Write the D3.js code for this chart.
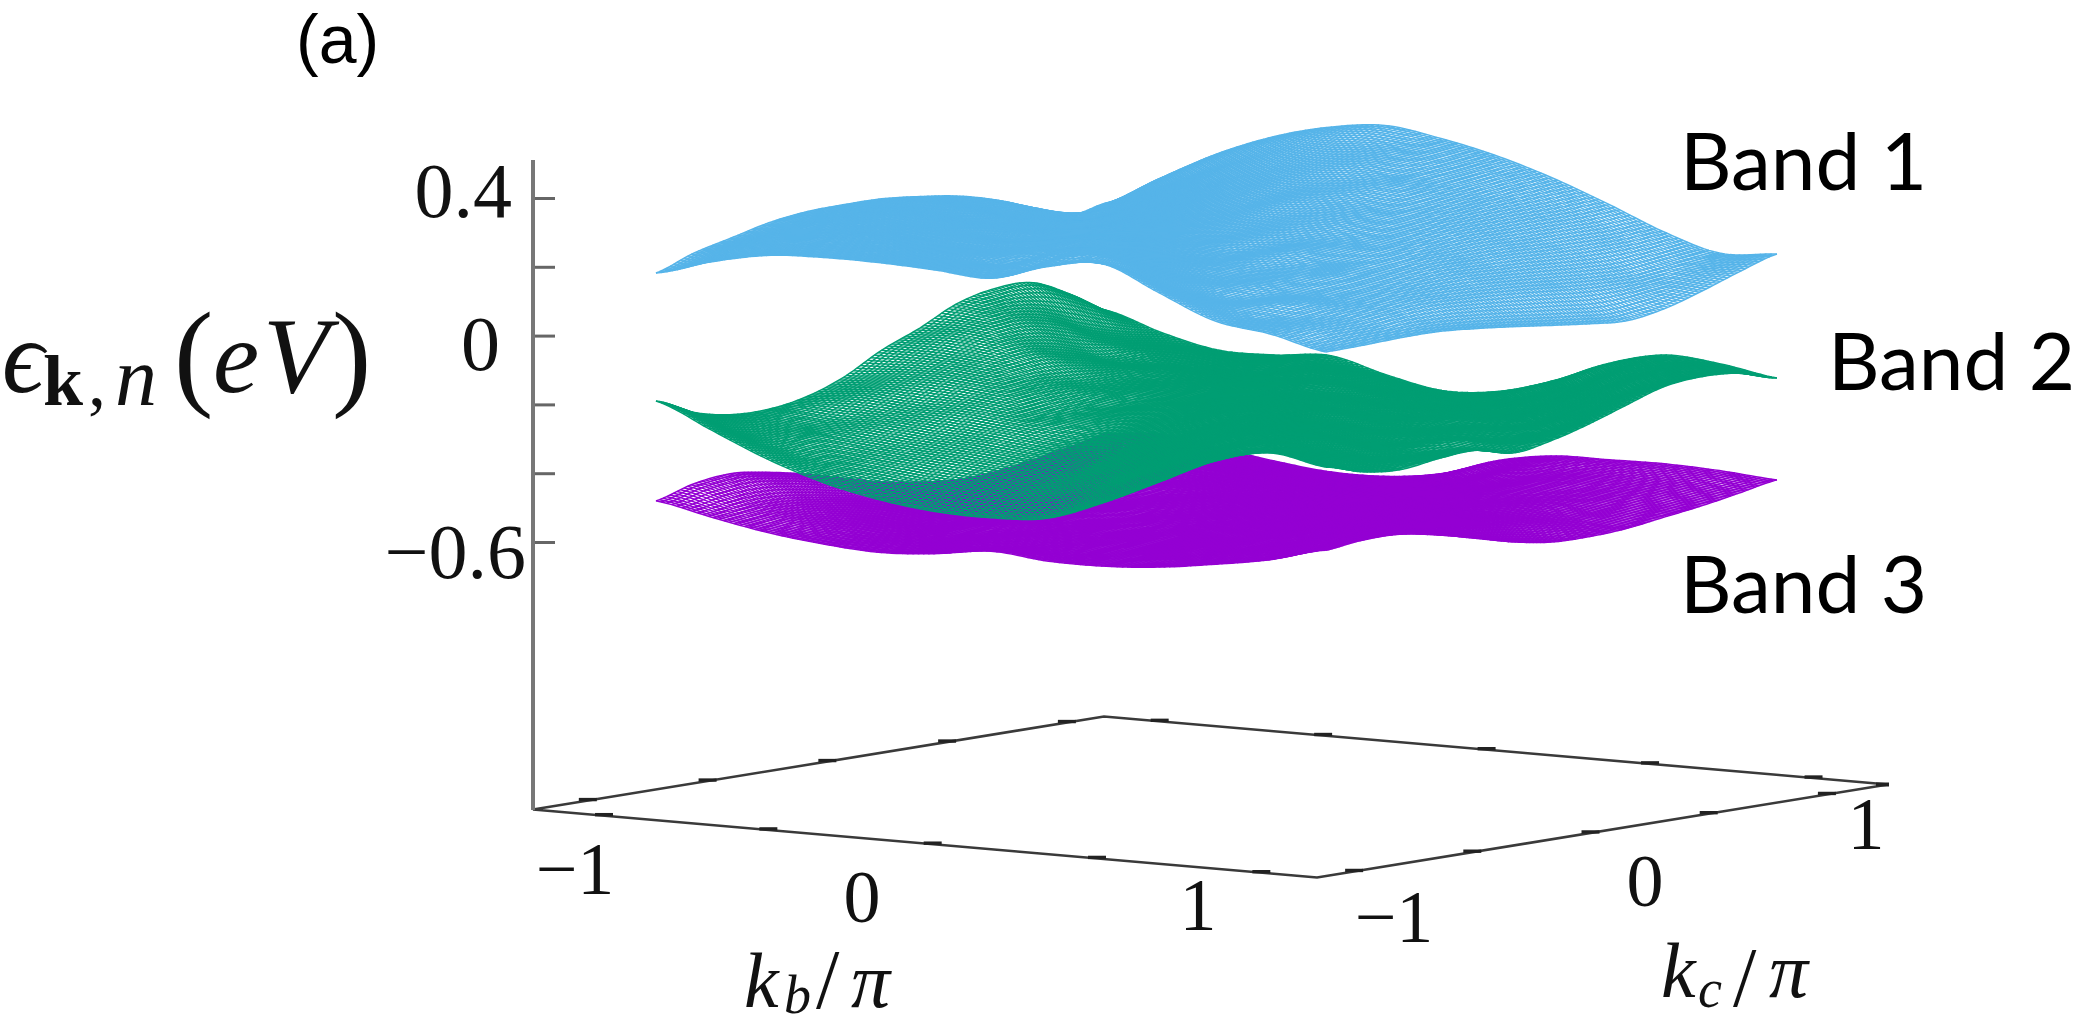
<!DOCTYPE html>
<html><head><meta charset="utf-8"><title>Band structure</title>
<script src="https://cdn.jsdelivr.net/npm/d3@7"></script>
<style>html,body{margin:0;background:#fff}svg{display:block;filter:blur(.6px)}
.cm{font-family:"Liberation Serif",serif;fill:#111}.ca{font-family:Lato,sans-serif;fill:#000}.ls{font-family:"Liberation Sans",sans-serif;fill:#000}</style></head>
<body><script>
const kbGrid=[-1,-.8333,-.6667,-.5,-.3333,-.1667,0,.1667,.3333,.5,.6667,.8333,1];
const kcGrid=kbGrid.slice();
const bandOne=[
[.175,.214,.240,.266,.280,.283,.282,.271,.255,.227,.187,.147,.166],
[.221,.246,.265,.278,.280,.276,.262,.247,.212,.186,.172,.203,.253],
[.253,.264,.274,.272,.266,.253,.233,.211,.195,.201,.230,.275,.335],
[.261,.266,.265,.257,.247,.223,.222,.219,.225,.248,.288,.343,.397],
[.260,.258,.251,.238,.234,.242,.237,.240,.258,.294,.341,.393,.438],
[.253,.247,.232,.256,.268,.248,.245,.260,.291,.335,.378,.418,.456],
[.243,.254,.288,.274,.250,.243,.253,.284,.326,.356,.393,.416,.432],
[.290,.318,.272,.244,.233,.240,.274,.304,.331,.360,.373,.388,.396],
[.312,.262,.229,.214,.228,.260,.275,.300,.317,.328,.335,.342,.346],
[.244,.207,.189,.213,.231,.245,.263,.273,.279,.280,.281,.281,.285],
[.177,.172,.195,.195,.208,.219,.225,.223,.221,.216,.213,.213,.219],
[.153,.158,.159,.167,.173,.170,.164,.156,.146,.140,.140,.157,.173],
[.115,.117,.121,.121,.112,.100,.086,.073,.064,.081,.114,.152,.185]];
const bandTwo=[
[-.192,-.242,-.266,-.268,-.250,-.211,-.152,-.107,-.054,-.028,-.028,-.078,-.143],
[-.262,-.294,-.300,-.286,-.241,-.199,-.152,-.107,-.087,-.105,-.147,-.177,-.194],
[-.331,-.341,-.323,-.286,-.248,-.199,-.166,-.149,-.169,-.198,-.202,-.214,-.229],
[-.384,-.367,-.336,-.296,-.250,-.219,-.212,-.220,-.222,-.219,-.227,-.230,-.229],
[-.419,-.388,-.344,-.304,-.271,-.261,-.254,-.237,-.229,-.227,-.229,-.220,-.217],
[-.439,-.394,-.353,-.321,-.295,-.268,-.245,-.233,-.222,-.219,-.215,-.231,-.258],
[-.443,-.396,-.356,-.313,-.274,-.245,-.226,-.218,-.214,-.216,-.245,-.270,-.289],
[-.431,-.372,-.316,-.272,-.239,-.214,-.209,-.213,-.232,-.257,-.275,-.282,-.278],
[-.373,-.311,-.262,-.225,-.207,-.207,-.216,-.245,-.265,-.272,-.275,-.266,-.233],
[-.300,-.246,-.207,-.199,-.210,-.232,-.256,-.266,-.258,-.270,-.253,-.216,-.169],
[-.226,-.197,-.200,-.215,-.246,-.261,-.257,-.256,-.264,-.239,-.200,-.157,-.132],
[-.188,-.208,-.233,-.255,-.258,-.236,-.260,-.256,-.225,-.187,-.148,-.132,-.144],
[-.215,-.246,-.257,-.243,-.237,-.262,-.244,-.214,-.177,-.142,-.131,-.139,-.170]];
const bandThree=[
[-.478,-.447,-.435,-.449,-.472,-.501,-.529,-.547,-.558,-.553,-.537,-.517,-.496],
[-.511,-.496,-.497,-.511,-.530,-.544,-.556,-.554,-.547,-.531,-.513,-.480,-.484],
[-.541,-.534,-.539,-.549,-.554,-.557,-.548,-.541,-.528,-.511,-.489,-.495,-.509],
[-.560,-.559,-.558,-.558,-.552,-.547,-.539,-.526,-.500,-.498,-.505,-.518,-.533],
[-.570,-.562,-.555,-.543,-.546,-.538,-.526,-.506,-.506,-.511,-.521,-.535,-.550],
[-.560,-.550,-.546,-.546,-.539,-.520,-.513,-.512,-.515,-.522,-.534,-.542,-.549],
[-.539,-.550,-.548,-.540,-.524,-.518,-.514,-.515,-.521,-.525,-.533,-.533,-.527],
[-.553,-.552,-.539,-.528,-.519,-.513,-.512,-.515,-.514,-.518,-.519,-.511,-.476],
[-.554,-.541,-.530,-.517,-.509,-.507,-.501,-.502,-.503,-.506,-.496,-.469,-.449],
[-.543,-.527,-.512,-.503,-.496,-.486,-.486,-.492,-.497,-.489,-.475,-.465,-.446],
[-.521,-.504,-.494,-.476,-.471,-.473,-.484,-.494,-.494,-.492,-.483,-.466,-.444],
[-.494,-.479,-.459,-.454,-.465,-.482,-.500,-.509,-.515,-.505,-.489,-.471,-.450],
[-.453,-.441,-.442,-.462,-.489,-.517,-.535,-.537,-.531,-.516,-.501,-.482,-.462]];
const energyTicks=[.4,.2,0,-.2,-.4,-.6];
const energyLabels=["0.4","0","−0.6"];
const momentumTicks=[-1,-.5,0,.5,1];
const momentumLabels=["−1","0","1"];
const bandNames=["Band 1","Band 2","Band 3"];
const bandColors=["#56B4E9","#009E73","#9400D3"];

const W=2074,H=1028,MESH=128,LINE=1.5;
const svg=d3.select("body").append("svg").attr("width",W).attr("height",H).attr("viewBox",[0,0,W,H]);

const sxU=d3.scaleLinear([-1,1],[-392,392]),sxV=d3.scaleLinear([-1,1],[-285.5,285.5]);
const syU=d3.scaleLinear([-1,1],[-34,34]),syV=d3.scaleLinear([-1,1],[46.5,-46.5]);
const syE=d3.scaleLinear([0,1],[0,-349]);
const px=(u,v)=>1210.5+sxU(u)+sxV(v);
const py=(u,v,e)=>325.5+syU(u)+syV(v)+syE(e);
const floorY=(u,v)=>797+syU(u)+syV(v);
const kbToU=d3.scaleLinear([-1,1],[-.836,.873]),kcToV=d3.scaleLinear([-1,1],[-.7945,.7855]);
const gridKb=d3.scaleLinear([0,kbGrid.length-1],[kbGrid[0],kbGrid[kbGrid.length-1]]);
const gridKc=d3.scaleLinear([0,kcGrid.length-1],[kcGrid[0],kcGrid[kcGrid.length-1]]);
const energyY=d3.scaleLinear([-.6,.4],[542,198]);

const cr=(a,b,c,d,t)=>.5*(2*b+(c-a)*t+(2*a-5*b+4*c-d)*t*t+(3*b-a-3*c+d)*t*t*t);
function evalBand(g,fi,fj){
  const n=g.length-1,i=Math.min(n-1,Math.floor(fi)),j=Math.min(n-1,Math.floor(fj)),ti=fi-i,tj=fj-j;
  const row=r=>{const R=g[Math.max(0,Math.min(n,r))];
    return cr(R[Math.max(0,j-1)],R[j],R[j+1],R[Math.min(n,j+2)],tj);};
  return cr(row(i-1),row(i),row(i+1),row(i+2),ti);
}
const line=d3.line();
function drawBand(g,color){
  const n=g.length-1,G=svg.append("g").attr("fill","none").attr("stroke",color).attr("stroke-width",LINE);
  const pt=(fi,fj)=>{const u=kbToU(gridKb(fi)),v=kcToV(gridKc(fj));return [px(u,v),py(u,v,evalBand(g,fi,fj))];};
  const steps=d3.range(MESH+1).map(k=>k/MESH*n);
  steps.forEach(s=>{
    G.append("path").attr("d",line(steps.map(t=>pt(s,t))));
    G.append("path").attr("d",line(steps.map(t=>pt(t,s))));
  });
}

const corners=[[-1,-1],[1,-1],[1,1],[-1,1]];
const cxy=c=>[px(c[0],c[1]),floorY(c[0],c[1])];
svg.append("path").attr("d",d3.line()(corners.map(cxy))+"Z").attr("fill","none").attr("stroke","#3a3a3a").attr("stroke-width",2.6);
const edges=[
 {a:corners[0],b:corners[1],f:d3.scaleLinear([-1,1],[.0906,.929])},
 {a:corners[3],b:corners[2],f:d3.scaleLinear([-1,1],[.071,.905])},
 {a:corners[1],b:corners[2],f:d3.scaleLinear([-1,1],[.065,.893])},
 {a:corners[0],b:corners[3],f:d3.scaleLinear([-1,1],[.096,.935])}];
edges.forEach(e=>{const A=cxy(e.a),B=cxy(e.b);
 momentumTicks.forEach(t=>{const f=e.f(t),x=A[0]+(B[0]-A[0])*f,y=A[1]+(B[1]-A[1])*f-1;
  svg.append("line").attr("x1",x-9).attr("x2",x+9).attr("y1",y).attr("y2",y).attr("stroke","#222").attr("stroke-width",3.4);});});
const Rc=cxy(corners[2]);
svg.append("line").attr("x1",Rc[0]-12).attr("x2",Rc[0]+1).attr("y1",Rc[1]).attr("y2",Rc[1]).attr("stroke","#222").attr("stroke-width",4);

const ax=svg.append("g").attr("transform","translate(533,0)")
 .call(d3.axisRight(energyY).tickValues(energyTicks).tickSize(22).tickFormat(""));
ax.select(".domain").remove();
ax.selectAll("line").attr("stroke","#666").attr("stroke-width",3);
svg.append("line").attr("x1",533).attr("x2",533).attr("y1",160).attr("y2",810).attr("stroke","#777").attr("stroke-width",4);

drawBand(bandThree,bandColors[2]);
drawBand(bandTwo,bandColors[1]);
drawBand(bandOne,bandColors[0]);

const T=(s,x,y,size,cls,anchor)=>svg.append("text").attr("x",x).attr("y",y).attr("font-size",size).attr("class",cls).attr("text-anchor",anchor||"start").text(s);
const eLab=[[512,217],[500,370],[526,578]];
energyLabels.forEach((s,i)=>T(s,eLab[i][0],eLab[i][1],78,"cm","end"));
const bLab=[[575,894],[862,922],[1198,930]],cLab=[[1394,942],[1645,906],[1866,849]];
momentumLabels.forEach((s,i)=>{T(s,bLab[i][0],bLab[i][1],74,"cm","middle");T(s,cLab[i][0],cLab[i][1],74,"cm","middle");});
const mathPieces=(items)=>{const t=svg.append("text").attr("class","cm");
 items.forEach(d=>t.append("tspan").attr("x",d[1]).attr("y",d[2]).attr("font-size",d[3]).attr("font-style",d[4]==="i"?"italic":"normal").attr("font-weight",d[4]==="b"?"bold":"normal").text(d[0]));};
mathPieces([["ϵ",2,392,104,"i"],["k",43,405,72,"b"],[",",88,405,72,"n"],["n",115,405,84,"i"],["(",174,394,118,"n"],["e",213,392,104,"i"],["V",263,392,108,"i"],[")",332,394,118,"n"]]);
mathPieces([["k",744,1007,78,"i"],["b",784,1013,54,"i"],["/",816,1008,84,"n"],["π",851,1007,78,"i"]]);
mathPieces([["k",1661,997,78,"i"],["c",1698,1007,54,"i"],["/",1733,1006,84,"n"],["π",1769,997,78,"i"]]);
const nameLab=[[1680,190],[1828,390],[1680,613]];
bandNames.forEach((s,i)=>T(s,nameLab[i][0],nameLab[i][1],80,"ca"));
T("(a)",296,63,68,"ls");
</script></body></html>
